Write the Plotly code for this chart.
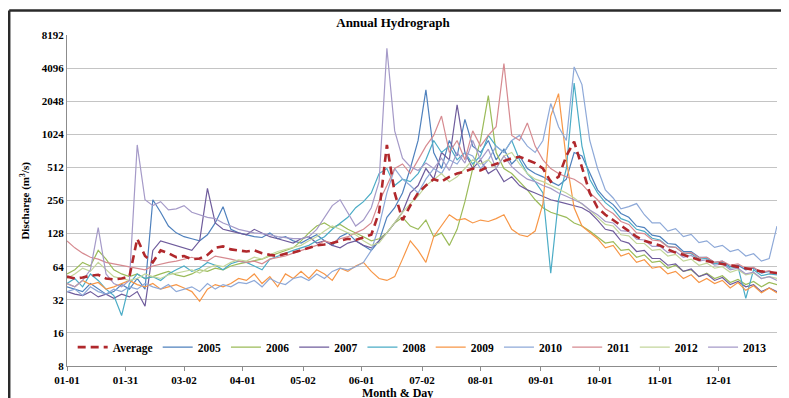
import plotly.graph_objects as go

# day-of-year sample positions (every 4 days)
days = list(range(0, 365, 4))

tick_days = [0, 30, 60, 90, 121, 151, 182, 212, 243, 273, 304, 334]
tick_labels = ["01-01", "01-31", "03-02", "04-01", "05-02", "06-01",
               "07-02", "08-01", "09-01", "10-01", "11-01", "12-01"]
y_ticks = [8, 16, 32, 64, 128, 256, 512, 1024, 2048, 4096, 8192]

average = [52, 50, 51, 53, 54, 50, 49, 50,
           52, 115, 80, 70, 90, 85, 78,
           80, 75, 76, 82, 95, 98, 92, 90,
           88, 90, 85, 82, 80, 84, 86,
           90, 95, 100, 102, 105, 110, 115, 112,
           118, 125, 200, 820, 300, 170, 230,
           300, 350, 400, 380, 420, 450, 470, 500,
           480, 520, 550, 580, 620, 640, 600, 560,
           500, 380, 420, 650, 880, 520, 300,
           220, 190, 170, 150, 135, 120, 110, 105,
           100, 92, 86, 82, 78, 74, 72,
           70, 68, 66, 64, 62, 60, 58, 57, 56]

y2005 = [42, 40, 38, 45, 40, 36, 38, 44,
         40, 50, 40, 260, 200, 150, 130,
         120, 115, 110, 125, 160, 225, 140, 130,
         125, 120, 118, 130, 115, 120, 110,
         105, 115, 125, 110, 100, 120, 130, 110,
         100, 90, 110, 180, 220, 300, 500,
         900, 2600, 700, 500, 900, 650, 1400, 800,
         700, 900, 600, 750, 550, 650, 500, 450,
         420, 380, 350, 400, 700, 650, 450,
         320, 265, 235, 195, 180, 150, 145, 124,
         120, 104, 102, 88, 88, 78, 78,
         70, 72, 64, 66, 60, 62, 56, 58, 55]

y2006 = [55, 60, 70, 65, 90, 75, 60, 55,
         52, 55, 50, 52, 55, 58, 54,
         52, 55, 60, 58, 62, 60, 65, 68,
         70, 72, 75, 80, 85, 90, 95,
         110, 130, 150, 160, 145, 155, 140, 130,
         120, 110, 115, 130, 160, 180, 150,
         140, 170, 120, 130, 100, 140, 250, 500,
         900, 2300, 700, 500, 450, 380, 320, 260,
         220, 200, 190, 180, 160, 150, 135,
         120, 105, 108, 90, 92, 78, 82, 70,
         72, 62, 66, 58, 60, 52, 56,
         50, 53, 46, 49, 44, 47, 42, 46, 44]

y2007 = [38, 36, 35, 38, 34, 36, 33, 36,
         34, 38, 28, 90, 110, 105, 100,
         95, 90, 110, 330, 160, 140, 135, 130,
         125, 140, 130, 120, 115, 110, 105,
         115, 120, 105, 110, 100, 95, 105, 110,
         100, 95, 110, 130, 160, 200, 300,
         350, 500, 400, 700, 600, 1900, 700, 500,
         600, 450, 500, 380, 420, 350, 320, 300,
         280, 260, 250, 240, 230, 220, 200,
         170, 140, 135, 110, 105, 88, 90, 76,
         76, 66, 68, 58, 61, 52, 55,
         48, 51, 44, 47, 42, 44, 38, 41, 38]

y2008 = [45, 50, 42, 55, 48, 40, 35, 23,
         45, 55, 50, 52, 48, 55, 60,
         65, 58, 62, 70, 66, 60, 68, 72,
         70, 65, 60, 75, 80, 85, 90,
         95, 100, 110, 120, 140, 160, 180, 220,
         250, 300, 450, 500, 350, 400, 380,
         450, 600, 900, 700, 800, 600, 700, 550,
         650, 1000, 800, 700, 900, 600, 450, 380,
         300, 56, 260, 500, 3000, 800, 400,
         300, 245, 215, 175, 165, 140, 134, 116,
         112, 98, 96, 85, 84, 75, 76,
         68, 70, 62, 64, 33, 60, 53, 55, 54]

y2009 = [45, 42, 48, 44, 46, 40, 42, 45,
         48, 44, 42, 45, 40, 42, 44,
         41, 38, 31, 40, 44, 42, 45, 50,
         48, 55, 45, 52, 42, 55, 50,
         58, 50, 60, 55, 48, 62, 58, 65,
         70, 58, 50, 48, 52, 75, 110,
         90, 70, 120, 150, 190, 170, 175, 160,
         170, 165, 175, 190, 140, 125, 120, 135,
         240, 1500, 2400, 600, 220, 150, 130,
         115, 95, 100, 80, 85, 70, 74, 62,
         64, 55, 58, 50, 54, 46, 50,
         45, 48, 41, 46, 39, 43, 37, 41, 37]

y2010 = [38, 40, 35, 42, 38, 36, 40, 38,
         42, 40, 45, 42, 40, 44, 38,
         40, 42, 38, 45, 40, 44, 42, 46,
         45, 48, 42, 50, 46, 44, 50,
         52, 48, 55, 50, 58, 62, 60, 64,
         70, 90, 150, 300, 500, 400, 350,
         300, 400, 500, 450, 600, 550, 700, 650,
         500, 600, 800, 700, 900, 1000, 800, 700,
         900, 1950, 1200, 900, 4200, 2900, 900,
         500, 320, 270, 215, 225, 240, 190, 160,
         160, 135, 142, 120, 126, 106, 110,
         96, 100, 88, 92, 80, 84, 72, 76, 150]

y2011 = [110, 95, 85, 78, 75, 70, 68, 66,
         64, 62, 60, 65, 68, 70, 72,
         75, 78, 74, 72, 80, 78, 75, 72,
         70, 72, 68, 75, 78, 80, 85,
         90, 95, 100, 110, 105, 115, 120, 130,
         140, 160, 250, 350, 500, 550, 450,
         600, 800, 1000, 1500, 700, 900, 600, 1100,
         800, 1000, 1200, 4500, 1000, 900, 1300, 800,
         600, 500, 450, 420, 400, 360, 300,
         260, 215, 195, 165, 155, 130, 128, 112,
         110, 97, 96, 85, 86, 77, 78,
         70, 72, 66, 68, 62, 63, 57, 59, 55]

y2012 = [50, 55, 62, 58, 70, 60, 52, 50,
         48, 50, 55, 52, 50, 54, 56,
         58, 60, 56, 62, 66, 64, 70, 74,
         72, 78, 75, 82, 88, 92, 95,
         100, 110, 120, 135, 150, 140, 130, 125,
         110, 100, 105, 130, 160, 200, 240,
         280, 350, 400, 450, 380, 420, 500, 600,
         550, 600, 500, 650, 700, 550, 450, 400,
         380, 350, 320, 300, 270, 240, 210,
         180, 155, 150, 125, 122, 104, 104, 90,
         92, 80, 83, 72, 75, 66, 69,
         62, 64, 57, 60, 54, 56, 50, 52, 50]

y2013 = [45, 42, 48, 60, 145, 55, 45, 42,
         48, 820, 260, 230, 250, 210, 215,
         230, 200, 190, 180, 175, 160, 150, 140,
         135, 130, 128, 125, 120, 118, 115,
         115, 120, 140, 180, 230, 260, 200, 150,
         170, 220, 380, 6200, 1100, 620, 520,
         480, 560, 500, 620, 480, 700, 560, 900,
         600, 750, 500, 650, 520, 450, 400, 380,
         350, 330, 300, 280, 260, 240, 210,
         190, 165, 160, 136, 134, 114, 112, 98,
         98, 86, 88, 78, 81, 72, 74,
         66, 68, 60, 62, 55, 57, 50, 52, 48]

years = ["2005", "2006", "2007", "2008", "2009", "2010", "2011", "2012", "2013"]
series = [y2005, y2006, y2007, y2008, y2009, y2010, y2011, y2012, y2013]
colors = ["#4F81BD", "#9BBB59", "#6F5C9C", "#4BACC6", "#F79646",
          "#8EA9D8", "#D68A90", "#C3D69B", "#A59AC8"]

SERIF = "Liberation Serif, Times New Roman, serif"

fig = go.Figure()
for k, (name, vals, col) in enumerate(zip(years, series, colors)):
    fig.add_trace(go.Scatter(x=days, y=vals, mode="lines", name=name,
                             line=dict(color=col, width=1.2),
                             legendrank=k + 2))
fig.add_trace(go.Scatter(x=days, y=average, mode="lines", name="Average",
                         line=dict(color="#B0282C", width=2.6, dash="8px,5px"),
                         legendrank=1))

# the page body adds an 8px offset, so the figure is 8px smaller than the window
fig.update_layout(
    width=781, height=390,
    margin=dict(l=59, r=12, t=27, b=32, autoexpand=False),
    paper_bgcolor="white", plot_bgcolor="white",
    font=dict(family=SERIF, size=11, color="black"),
    title=dict(text="<b>Annual Hydrograph</b>", x=0.493, xanchor="center",
               y=0.964, yanchor="middle", font=dict(family=SERIF, size=13)),
    showlegend=True,
    legend=dict(orientation="h", x=0.008, xanchor="left", y=0.057, yanchor="middle",
                bgcolor="rgba(255,255,255,0)",
                font=dict(family=SERIF, size=11.5, weight="bold")),
    xaxis=dict(range=[0, 364], tickmode="array", tickvals=tick_days, ticktext=tick_labels,
               showgrid=False, zeroline=False, showline=True, linecolor="#8c8c8c",
               linewidth=1, ticks="outside", ticklen=4, tickcolor="#8c8c8c",
               tickfont=dict(family=SERIF, size=11, weight="bold")),
    yaxis=dict(type="log", range=[0.90309, 3.91339], tickmode="array",
               tickvals=y_ticks, ticktext=[str(v) for v in y_ticks],
               showgrid=True, gridcolor="#c4c4c4", gridwidth=1, zeroline=False,
               showline=True, linecolor="#8c8c8c", linewidth=1, ticks="",
               tickfont=dict(family=SERIF, size=11, weight="bold")),
    annotations=[
        dict(text="<b>Discharge (m<sup>3</sup>/s)</b>", xref="paper", yref="paper",
             x=-0.059, y=0.5, textangle=-90, showarrow=False,
             xanchor="center", yanchor="middle", font=dict(family=SERIF, size=11)),
        dict(text="<b>Month &amp; Day</b>", xref="paper", yref="paper",
             x=0.465, y=-0.081, showarrow=False,
             xanchor="center", yanchor="middle", font=dict(family=SERIF, size=12)),
    ],
    shapes=[
        dict(type="line", xref="paper", yref="paper", x0=-0.0814, x1=1.2,
             y0=1.074, y1=1.074, line=dict(color="#2a2a2a", width=2.5)),
        dict(type="line", xref="paper", yref="paper", x0=-0.0814, x1=-0.0814,
             y0=1.074, y1=-0.2, line=dict(color="#2a2a2a", width=2.5)),
    ],
)

fig.write_html("out.html")
